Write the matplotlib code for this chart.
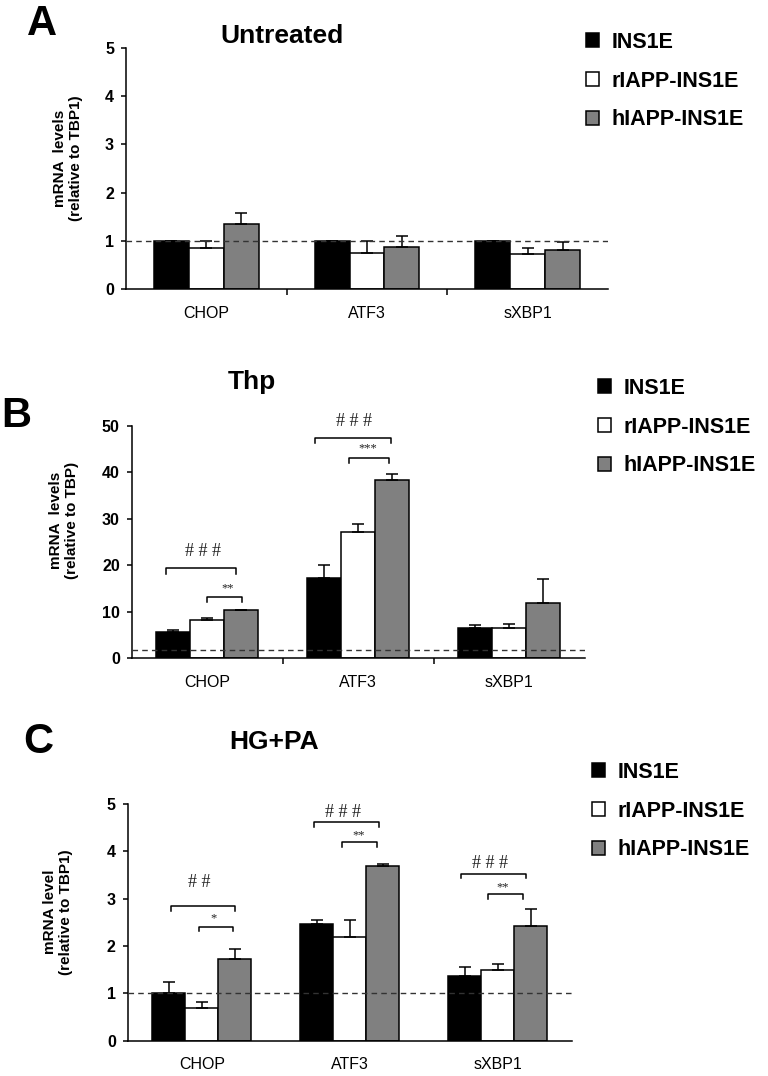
import matplotlib
matplotlib.use('Agg')
import matplotlib.pyplot as plt
from matplotlib.patches import Patch

# ---------------- data ----------------
genes = ['CHOP', 'ATF3', 'sXBP1']
groups = ['INS1E', 'rIAPP-INS1E', 'hIAPP-INS1E']

# Panel A: Untreated
a_ins1e = [1.0, 1.0, 1.0]
a_ins1e_err = [0.0, 0.0, 0.0]
a_riapp = [0.86, 0.74, 0.73]
a_riapp_err = [0.14, 0.25, 0.13]
a_hiapp = [1.35, 0.88, 0.80]
a_hiapp_err = [0.23, 0.22, 0.17]

# Panel B: Thp
b_ins1e = [5.6, 17.3, 6.45]
b_ins1e_err = [0.5, 2.7, 0.75]
b_riapp = [8.2, 27.2, 6.6]
b_riapp_err = [0.5, 1.7, 0.8]
b_hiapp = [10.4, 38.3, 12.0]
b_hiapp_err = [0.1, 1.3, 5.0]

# Panel C: HG+PA
c_ins1e = [1.0, 2.47, 1.37]
c_ins1e_err = [0.23, 0.07, 0.18]
c_riapp = [0.70, 2.20, 1.49]
c_riapp_err = [0.11, 0.34, 0.14]
c_hiapp = [1.73, 3.69, 2.42]
c_hiapp_err = [0.21, 0.04, 0.37]

# significance brackets: (x1, x2, y, label, label_x, label_y)
b_sig = [(-0.27, 0.19, 19.4, '# # #', -0.03, 22.9),
         (0.00, 0.23, 13.3, '**', 0.135, 15.0),
         (0.71, 1.215, 47.5, '# # #', 0.97, 51.0),
         (0.94, 1.20, 43.1, '***', 1.065, 45.1)]
c_sig = [(-0.21, 0.227, 2.85, '# #', -0.016, 3.34),
         (-0.02, 0.214, 2.41, '*', 0.078, 2.58),
         (0.757, 1.198, 4.61, '# # #', 0.957, 4.82),
         (0.948, 1.182, 4.19, '**', 1.058, 4.34),
         (1.75, 2.19, 3.53, '# # #', 1.948, 3.75),
         (1.936, 2.17, 3.09, '**', 2.034, 3.24)]

colors = ['#000000', '#ffffff', '#808080']
SANS = 'Liberation Sans'
SERIF = 'Liberation Serif'
LW = 1.1

fig = plt.figure(figsize=(7.68, 10.76), dpi=100)


def panel(rect, vals, errs, width, ylim, yticks, ylabel, ylab_xy, ref, sig, drop,
          minor_ticks):
    ax = fig.add_axes(rect)
    x = list(range(len(genes)))
    handles = []
    for k in range(3):
        pos = [xi + (k - 1) * width for xi in x]
        h = ax.bar(pos, vals[k], width=width, color=colors[k], edgecolor='black',
                   linewidth=LW, zorder=2)
        ax.errorbar(pos, vals[k], yerr=[[0] * len(x), errs[k]], fmt='none',
                    ecolor='black', elinewidth=LW, capsize=4.3, capthick=LW, zorder=3)
        handles.append(h)
    ax.axhline(ref, color='#333333', lw=1.0, ls=(0, (4, 3)), zorder=5)
    ax.set_xlim(-0.5, 2.5)
    ax.set_ylim(*ylim)
    ax.set_yticks(yticks)
    ax.set_yticklabels([str(t) for t in yticks], fontfamily=SANS, fontweight='bold',
                       fontsize=11.5)
    ax.set_xticks(x)
    ax.set_xticklabels(genes, fontfamily=SANS, fontsize=11.5)
    ax.tick_params(axis='x', which='major', length=0, pad=12)
    if minor_ticks:
        ax.set_xticks([0.5, 1.5], minor=True)
        ax.tick_params(axis='x', which='minor', length=4, width=LW, direction='out')
    ax.tick_params(axis='y', length=3.6, width=LW, direction='out', pad=5)
    for s in ['top', 'right']:
        ax.spines[s].set_visible(False)
    for s in ['left', 'bottom']:
        ax.spines[s].set_linewidth(LW)
    for (x1, x2, y, lab, lx, ly) in sig:
        ax.plot([x1, x1, x2, x2], [y - drop, y, y, y - drop], color='black', lw=LW,
                clip_on=False, zorder=4)
        fs = 13 if '#' in lab else 9
        ax.text(lx, ly, lab, ha='center', va='center', fontfamily=SERIF,
                fontsize=fs, color='#222222', clip_on=False)
    fig.text(ylab_xy[0] / 768, 1 - ylab_xy[1] / 1076, ylabel, rotation=90,
             ha='center', va='center', fontfamily=SANS, fontweight='bold',
             fontsize=11, linespacing=1.15)
    return ax, handles


axA, hA = panel([126 / 768, 1 - 289 / 1076, 482 / 768, 241 / 1076],
                [a_ins1e, a_riapp, a_hiapp], [a_ins1e_err, a_riapp_err, a_hiapp_err],
                0.217, (0, 5), [0, 1, 2, 3, 4, 5],
                'mRNA  levels\n(relative to TBP1)', (68, 158), 1.0, [], 0, True)
axB, hB = panel([131.7 / 768, 1 - 658.3 / 1076, 453.3 / 768, 232.3 / 1076],
                [b_ins1e, b_riapp, b_hiapp], [b_ins1e_err, b_riapp_err, b_hiapp_err],
                0.225, (0, 50), [0, 10, 20, 30, 40, 50],
                'mRNA  levels\n(relative to TBP)', (64, 520), 1.7, b_sig, 1.15, True)
axC, hC = panel([127.7 / 768, 1 - 1040.7 / 1076, 444.3 / 768, 236.7 / 1076],
                [c_ins1e, c_riapp, c_hiapp], [c_ins1e_err, c_riapp_err, c_hiapp_err],
                0.223, (0, 5), [0, 1, 2, 3, 4, 5],
                'mRNA level\n(relative to TBP1)', (58, 912), 1.0, c_sig, 0.1, False)

# titles and panel letters
for (txt, x, y) in [('Untreated', 282, 36), ('Thp', 252, 382), ('HG+PA', 274, 742)]:
    fig.text(x / 768, 1 - y / 1076, txt, ha='center', va='center', fontfamily=SANS,
             fontweight='bold', fontsize=19)
for (txt, x, y) in [('A', 42, 24), ('B', 16, 416), ('C', 38, 742)]:
    fig.text(x / 768, 1 - y / 1076, txt, ha='center', va='center', fontfamily=SANS,
             fontweight='bold', fontsize=30)

# legends
for (lx, ty) in [(586, 32), (598, 378), (592, 762)]:
    handles = [Patch(facecolor=c, edgecolor='black', linewidth=LW) for c in colors]
    fig.legend(handles, groups, loc='upper left',
               bbox_to_anchor=(lx / 768, 1 - ty / 1076), frameon=False,
               prop=dict(family=SANS, weight='bold', size=15.5),
               handlelength=0.62, handleheight=0.62, handletextpad=0.55,
               labelspacing=0.82, borderpad=0, borderaxespad=0)

fig.savefig('out.png', dpi=100)
